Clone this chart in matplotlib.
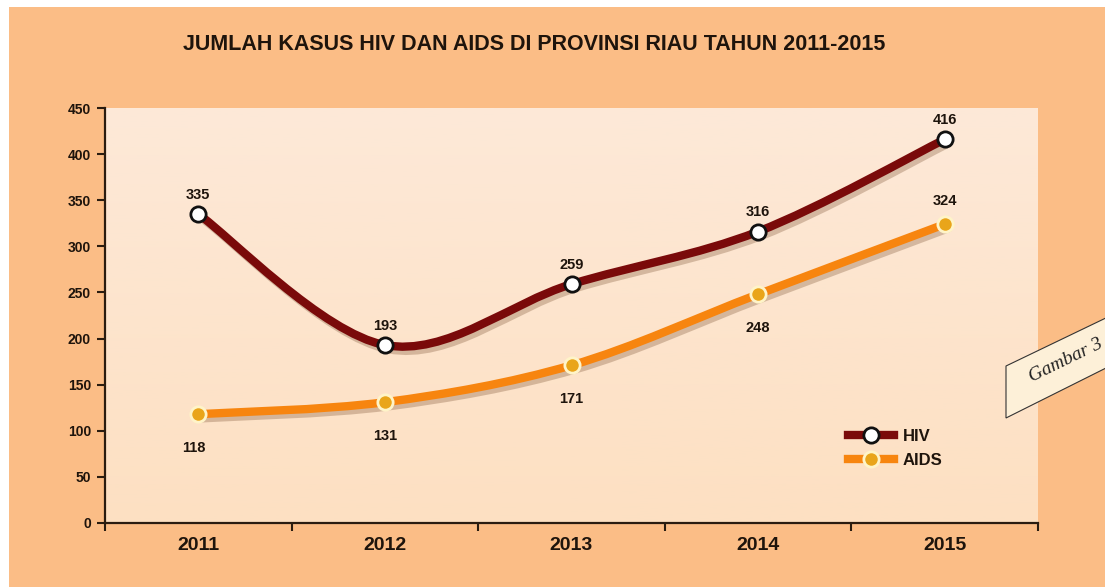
import matplotlib
matplotlib.use("Agg")
import numpy as np
import matplotlib.pyplot as plt
from matplotlib.path import Path
from matplotlib.patches import PathPatch, Rectangle, Polygon
from matplotlib.lines import Line2D
import matplotlib.patheffects as pe

plt.rcParams['font.family'] = ['Liberation Sans', 'DejaVu Sans']

years = ['2011', '2012', '2013', '2014', '2015']
hiv = [335, 193, 259, 316, 416]
aids = [118, 131, 171, 248, 324]
title = 'JUMLAH KASUS HIV DAN AIDS DI PROVINSI RIAU TAHUN 2011-2015'

outer_bg = '#fbbd86'
hiv_color = '#7a0a0a'
aids_color = '#f7850f'
text_color = '#1e140c'


def smooth_path(xs, ys):
    # excel style smoothed line as cubic bezier segments
    pts = np.column_stack([xs, ys]).astype(float)
    n = len(pts)
    verts = [pts[0]]
    codes = [Path.MOVETO]
    for i in range(n - 1):
        p0 = pts[i - 1] if i > 0 else pts[i]
        p1 = pts[i]
        p2 = pts[i + 1]
        p3 = pts[i + 2] if i + 2 < n else pts[i + 1]
        c1 = p1 + (p2 - p0) / 6.0
        c2 = p2 - (p3 - p1) / 6.0
        verts += [c1, c2, p2]
        codes += [Path.CURVE4] * 3
    return Path(verts, codes)


fig = plt.figure(figsize=(11.05, 5.87), dpi=100)
fig.patch.set_facecolor(outer_bg)

# white margins of the screenshot
fig.add_artist(Rectangle((0, 0), 9 / 1105, 1, transform=fig.transFigure,
                         facecolor='white', edgecolor='none'))
fig.add_artist(Rectangle((0, 1 - 7 / 587), 1, 7 / 587, transform=fig.transFigure,
                         facecolor='white', edgecolor='none'))

ax = fig.add_axes([105 / 1105, 1 - 523 / 587, 933 / 1105, 415 / 587])
ax.set_facecolor('#fde4cb')

# soft vertical gradient of the inner panel
grad = np.linspace(0, 1, 256).reshape(-1, 1)
cmap = matplotlib.colors.LinearSegmentedColormap.from_list('panel', ['#fde0c2', '#fde9d8'])
ax.imshow(grad, extent=[0, 1, 0, 1], transform=ax.transAxes, aspect='auto',
          cmap=cmap, origin='lower', zorder=0)

x = np.arange(1, len(years) + 1)

shadow = [pe.SimpleLineShadow(offset=(2.5, -3), shadow_color='#6b4020', alpha=0.28),
          pe.Normal()]

for vals, col, mfc, mec in [(aids, aids_color, '#e9a51a', '#fff4c8'),
                            (hiv, hiv_color, 'white', '#111111')]:
    patch = PathPatch(smooth_path(x, vals), facecolor='none', edgecolor=col,
                      linewidth=6, capstyle='round', joinstyle='round', zorder=3)
    patch.set_path_effects(shadow)
    ax.add_patch(patch)
    ax.plot(x, vals, linestyle='none', marker='o', markersize=11,
            markerfacecolor=mfc, markeredgecolor=mec, markeredgewidth=2, zorder=4)

for xi, v in zip(x, hiv):
    ax.annotate(str(v), (xi, v), xytext=(0, 14), textcoords='offset points',
                ha='center', va='center', fontsize=10.5, fontweight='bold', color=text_color)

for i, (xi, v) in enumerate(zip(x, aids)):
    dy = 17 if i == len(aids) - 1 else -24
    ax.annotate(str(v), (xi, v), xytext=(-3 if i == 0 else 0, dy), textcoords='offset points',
                ha='center', va='center', fontsize=10.5, fontweight='bold', color=text_color)

ax.set_xlim(0.5, len(years) + 0.5)
ax.set_ylim(0, 450)
ax.set_yticks(np.arange(0, 451, 50))
ax.set_xticks(x)
ax.set_xticklabels(years)
ax.set_xticks(np.arange(0.5, len(years) + 1, 1), minor=True)
ax.tick_params(axis='x', which='major', length=0, pad=10, labelsize=14)
ax.tick_params(axis='x', which='minor', length=6, width=1.5, direction='out', color='#2a1c10')
ax.tick_params(axis='y', length=6, width=1.5, direction='out', color='#2a1c10',
               labelsize=10, pad=4)
for lab in ax.get_xticklabels() + ax.get_yticklabels():
    lab.set_fontweight('bold')
    lab.set_color(text_color)

for side in ['top', 'right']:
    ax.spines[side].set_visible(False)
for side in ['left', 'bottom']:
    ax.spines[side].set_color('#2a1c10')
    ax.spines[side].set_linewidth(1.6)

handles = [
    Line2D([], [], color=hiv_color, linewidth=6, marker='o', markersize=11,
           markerfacecolor='white', markeredgecolor='#111111', markeredgewidth=2),
    Line2D([], [], color=aids_color, linewidth=6, marker='o', markersize=11,
           markerfacecolor='#e9a51a', markeredgecolor='#fff4c8', markeredgewidth=2),
]
leg = ax.legend(handles, ['HIV', 'AIDS'], loc='center left', bbox_to_anchor=(0.78, 0.18),
                frameon=False, handlelength=2.8, handletextpad=0.5, labelspacing=0.55,
                prop={'weight': 'bold', 'size': 12})
for t in leg.get_texts():
    t.set_color(text_color)

fig.text(0.483, 1 - 45 / 587, title, ha='center', va='center',
         fontsize=15.5, fontweight='bold', color=text_color)

# "Gambar 3" tag on the right edge
tag = Polygon([(1006 / 1105, 1 - 366 / 587), (1006 / 1105, 1 - 418 / 587),
               (1110 / 1105, 1 - 366 / 587), (1110 / 1105, 1 - 316 / 587)],
              closed=True, transform=fig.transFigure, facecolor='#fdf0d8',
              edgecolor='#333333', linewidth=0.8)
fig.add_artist(tag)
fig.text(1066 / 1105, 1 - 360 / 587, 'Gambar 3', rotation=26, ha='center', va='center',
         fontsize=14, style='italic', family='Liberation Serif', color='#222222')

fig.savefig('out.png', dpi=100, facecolor=fig.get_facecolor())
